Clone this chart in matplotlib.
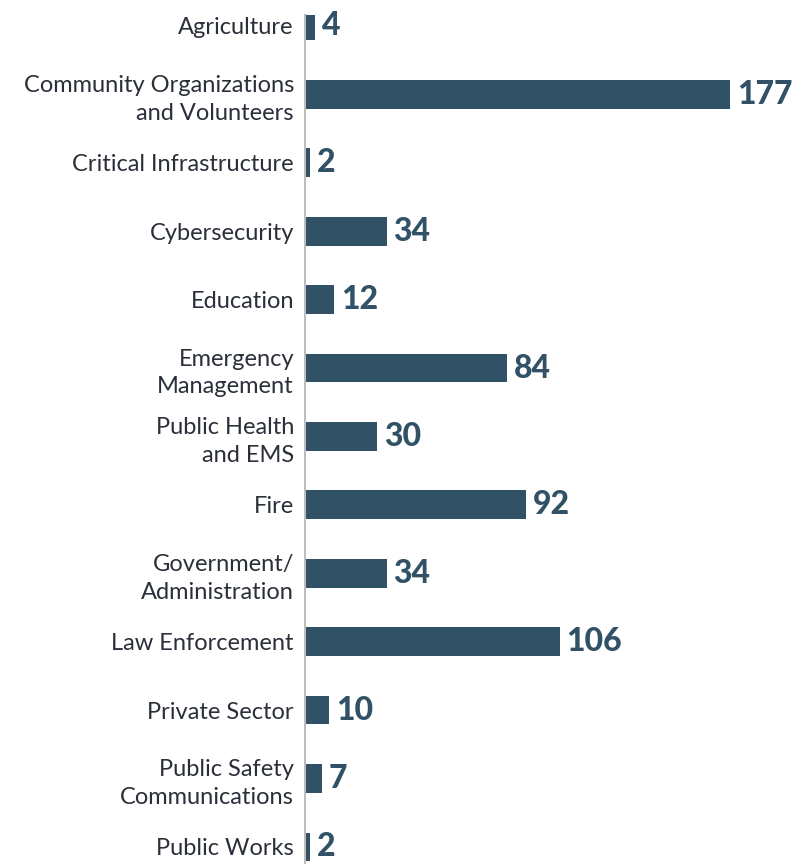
import matplotlib
matplotlib.use("Agg")
import matplotlib.pyplot as plt

categories = [
    "Agriculture",
    "Community Organizations\nand Volunteers",
    "Critical Infrastructure",
    "Cybersecurity",
    "Education",
    "Emergency\nManagement",
    "Public Health\nand EMS",
    "Fire",
    "Government/\nAdministration",
    "Law Enforcement",
    "Private Sector",
    "Public Safety\nCommunications",
    "Public Works",
]
values = [4, 177, 2, 34, 12, 84, 30, 92, 34, 106, 10, 7, 2]

bar_color = "#305166"
text_color = "#2a2f3a"

fig = plt.figure(figsize=(8.08, 8.64), dpi=100)
ax = fig.add_axes([305 / 808, 0, 503 / 808, (864 - 15) / 864])

pos = list(range(len(categories)))
ax.barh(pos, values, height=0.42, color=bar_color)
ax.set_ylim(12.25, -0.16)
ax.set_xlim(0, 209.5)

ax.set_yticks(pos)
ax.set_yticklabels(categories, fontsize=17, color=text_color, family="Lato",
                   linespacing=1.38)
ax.tick_params(axis="y", length=0, pad=8)
ax.set_xticks([])

for s in ["top", "right", "bottom"]:
    ax.spines[s].set_visible(False)
ax.spines["left"].set_color("#bdbdbd")
ax.spines["left"].set_linewidth(1.5)

for p, v in zip(pos, values):
    ax.annotate(str(v), xy=(v, p), xytext=(5, 0), textcoords="offset points",
                ha="left", va="center", fontsize=23, fontweight=900,
                family="Lato", color=bar_color)

fig.savefig("out.png", dpi=100)
